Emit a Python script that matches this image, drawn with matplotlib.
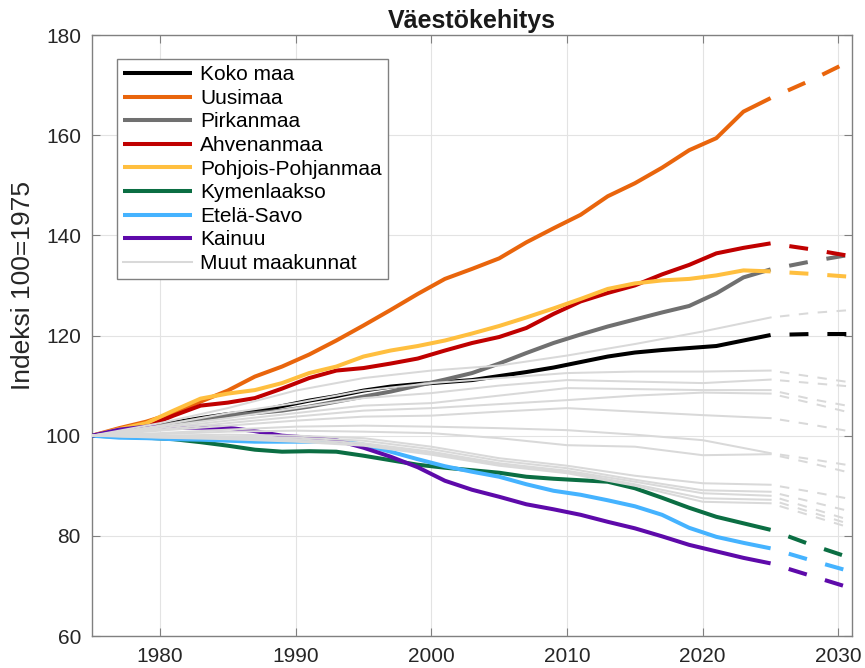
import matplotlib
matplotlib.use("Agg")
import matplotlib.pyplot as plt
import numpy as np

plt.rcParams['font.family'] = ['Liberation Sans', 'DejaVu Sans']

# havaitut vuodet (joka toinen vuosi) ja ennuste
years = np.arange(1975, 2026, 2)
proj_years = [2025, 2028, 2031]

koko_maa = [100, 100.8, 101.7, 102.6, 103.5, 104.3, 104.8, 105.9, 107.0, 107.9, 109.0, 109.8, 110.3,
            110.7, 111.1, 111.9, 112.7, 113.6, 114.7, 115.8, 116.6, 117.1, 117.5, 117.9, 119.0, 120.1]
uusimaa = [100, 101.5, 102.8, 104.5, 106.8, 109.0, 111.8, 113.8, 116.2, 119.0, 122.0, 125.1, 128.3,
           131.3, 133.3, 135.4, 138.6, 141.4, 144.1, 147.8, 150.4, 153.5, 157.0, 159.4, 164.7, 167.4]
pirkanmaa = [100, 100.7, 101.5, 102.4, 103.3, 104.0, 104.5, 105.0, 105.8, 106.8, 107.8, 108.8, 110.0,
             111.2, 112.5, 114.4, 116.5, 118.5, 120.2, 121.8, 123.2, 124.6, 125.9, 128.4, 131.6, 133.2]
ahvenanmaa = [100, 100.8, 101.8, 104.0, 106.0, 106.6, 107.5, 109.4, 111.5, 113.0, 113.5, 114.4, 115.4,
              117.0, 118.5, 119.7, 121.5, 124.3, 126.8, 128.5, 130.0, 132.2, 134.1, 136.4, 137.5, 138.4]
pohjois_pohjanmaa = [100, 101.3, 102.5, 105.0, 107.4, 108.4, 109.1, 110.5, 112.5, 113.8, 115.8, 117.0, 117.9,
                     119.0, 120.4, 121.9, 123.6, 125.4, 127.3, 129.3, 130.4, 131.0, 131.3, 132.0, 133.0, 132.8]
kymenlaakso = [100, 99.8, 99.6, 99.3, 98.7, 98.0, 97.2, 96.8, 96.9, 96.8, 96.0, 95.1, 94.2,
               93.6, 93.1, 92.6, 91.8, 91.4, 91.1, 90.8, 89.5, 87.6, 85.6, 83.8, 82.5, 81.2]
etela_savo = [100, 99.6, 99.5, 99.3, 99.2, 99.0, 98.8, 98.8, 98.8, 99.0, 98.2, 96.8, 95.3,
              93.9, 92.8, 91.8, 90.3, 89.0, 88.2, 87.1, 85.9, 84.2, 81.6, 79.8, 78.6, 77.5]
kainuu = [100, 101.2, 101.8, 101.6, 101.6, 101.6, 100.9, 100.0, 99.6, 99.1, 97.6, 95.8, 93.7,
          91.0, 89.2, 87.8, 86.3, 85.3, 84.2, 82.8, 81.5, 79.9, 78.2, 76.9, 75.6, 74.5]

proj = {
    'Koko maa': [120.1, 120.3, 120.3],
    'Uusimaa': [167.4, 171.0, 175.0],
    'Pirkanmaa': [133.2, 134.8, 136.2],
    'Ahvenanmaa': [138.4, 137.2, 135.8],
    'Pohjois-Pohjanmaa': [132.8, 132.3, 131.7],
    'Kymenlaakso': [81.2, 78.2, 75.5],
    'Etelä-Savo': [77.5, 75.1, 72.8],
    'Kainuu': [74.5, 72.0, 69.5],
}

# muut maakunnat, 5 v välein
muut_years = np.arange(1975, 2026, 5)
muut = [
    [100, 102.5, 105.5, 109.0, 111.5, 113.0, 114.0, 116.0, 118.3, 120.8, 123.6],
    [100, 102.0, 104.5, 106.5, 109.0, 110.5, 111.5, 112.5, 112.8, 112.8, 113.0],
    [100, 101.8, 103.5, 105.5, 107.5, 108.5, 110.0, 111.1, 110.8, 110.5, 111.2],
    [100, 101.5, 103.0, 104.5, 106.0, 106.5, 108.0, 109.5, 109.3, 109.1, 109.1],
    [100, 101.2, 102.5, 103.8, 105.0, 105.5, 106.3, 107.1, 108.0, 108.6, 108.4],
    [100, 101.0, 102.0, 103.0, 103.8, 104.0, 104.8, 105.5, 104.8, 104.1, 103.5],
    [100, 100.5, 101.2, 101.8, 102.0, 101.8, 101.5, 101.1, 100.2, 99.1, 96.5],
    [100, 100.3, 100.8, 101.0, 100.8, 100.5, 99.5, 98.1, 97.8, 96.1, 96.3],
    [100, 100.0, 100.2, 100.0, 99.5, 97.8, 95.5, 94.0, 92.0, 90.5, 90.2],
    [100, 99.8, 99.8, 99.6, 99.0, 97.3, 95.0, 93.5, 91.2, 89.1, 88.8],
    [100, 99.8, 99.5, 99.3, 98.5, 96.8, 94.5, 93.0, 90.8, 88.5, 88.0],
    [100, 99.7, 99.5, 99.0, 98.2, 96.5, 94.3, 92.8, 90.3, 87.5, 87.2],
    [100, 99.6, 99.3, 98.8, 98.0, 96.2, 94.0, 92.5, 90.0, 86.8, 86.5],
]
muut_proj = [
    [123.6, 124.5, 125.1], [113.0, 111.8, 110.6], [111.2, 110.5, 109.8], [109.1, 107.3, 105.8],
    [108.4, 106.5, 104.5], [103.5, 102.2, 100.8], [96.5, 95.3, 94.0], [96.3, 94.5, 92.5],
    [90.2, 88.8, 87.3], [88.8, 86.8, 84.8], [88.0, 85.5, 83.0], [87.2, 84.7, 82.2], [86.5, 84.0, 81.5],
]

series = [
    ('Koko maa', koko_maa, '#000000'),
    ('Uusimaa', uusimaa, '#E9650C'),
    ('Pirkanmaa', pirkanmaa, '#707070'),
    ('Ahvenanmaa', ahvenanmaa, '#C00000'),
    ('Pohjois-Pohjanmaa', pohjois_pohjanmaa, '#FFBF3F'),
    ('Kymenlaakso', kymenlaakso, '#0B6E43'),
    ('Etelä-Savo', etela_savo, '#45B3FF'),
    ('Kainuu', kainuu, '#5E0AAA'),
]
grey = '#D9D9D9'

fig = plt.figure(figsize=(8.65, 6.68), dpi=100)
ax = fig.add_axes([0.1064, 0.0479, 0.8786, 0.8997])

lw = 2.9
lw_g = 1.45
dash = (4.7, (4.7, 4.7))

for name, vals, col in series:
    ax.plot(years, vals, color=col, lw=lw, label=name, zorder=3, solid_capstyle='butt')
    ax.plot(proj_years, proj[name], color=col, lw=lw, ls=dash, zorder=3)

for i, vals in enumerate(muut):
    ax.plot(muut_years, vals, color=grey, lw=lw_g, zorder=4,
            label='Muut maakunnat' if i == 0 else None)
    ax.plot(proj_years, muut_proj[i], color=grey, lw=lw_g, ls=dash, zorder=4)

ax.set_xlim(1975, 2031)
ax.set_ylim(60, 180)
ax.set_xticks(np.arange(1980, 2031, 10))
ax.set_yticks(np.arange(60, 181, 20))
ax.grid(True, color='#E3E3E3', lw=0.8, zorder=0)
ax.set_axisbelow(True)
ax.tick_params(direction='in', top=True, right=True, length=6, width=0.8,
               labelsize=15, colors='#808080', labelcolor='#262626', pad=8)
for s in ax.spines.values():
    s.set_color('#808080')
    s.set_linewidth(1.0)

ax.set_title('Väestökehitys', fontsize=18, fontweight='bold', color='#1a1a1a', pad=5)
ax.set_ylabel('Indeksi 100=1975', fontsize=19, color='#262626')
ax.yaxis.set_label_coords(-0.075, 0.584)

leg = ax.legend(loc='upper left', bbox_to_anchor=(0.033, 0.96), fontsize=15, frameon=True,
                fancybox=False, edgecolor='#808080', framealpha=1, handlelength=3.3,
                handletextpad=0.4, labelspacing=0.22, borderpad=0.3, borderaxespad=0)
leg.get_frame().set_linewidth(1.0)
leg.set_zorder(10)

fig.savefig('out.png', dpi=100)
